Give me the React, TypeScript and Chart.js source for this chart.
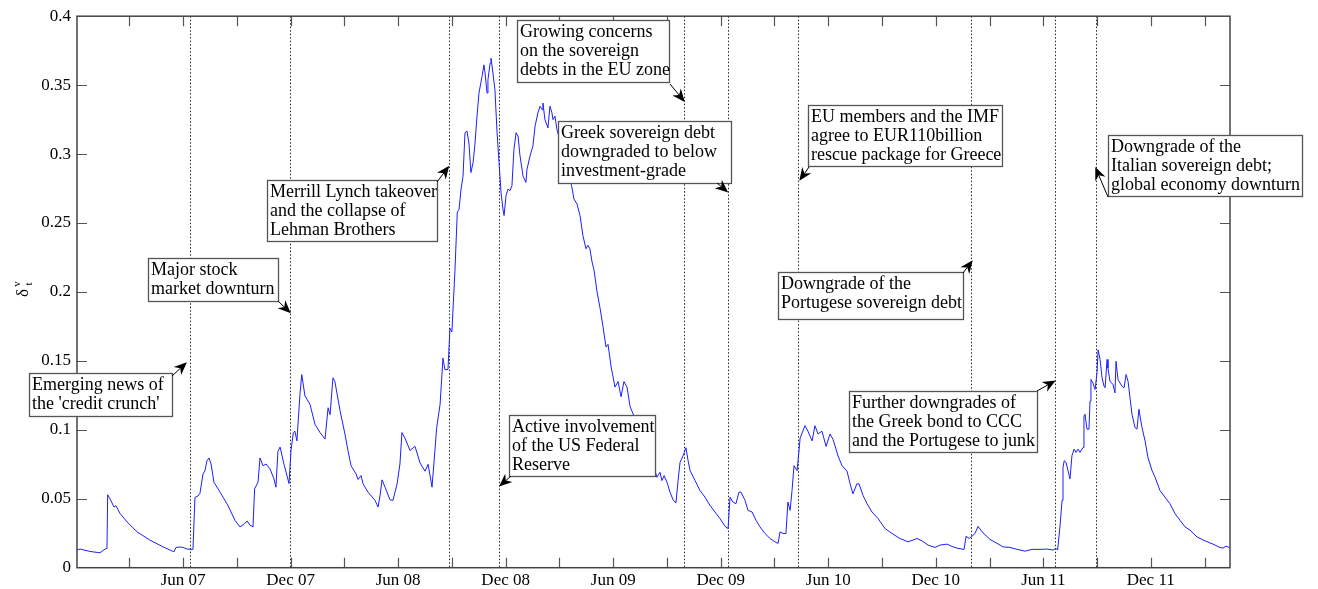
import { useEffect, useRef } from 'react';
import { Chart, registerables } from 'chart.js';
Chart.register(...registerables);

const FONT = "'Liberation Serif', 'Times New Roman', serif";

// x in months since 1 Dec 2006
const months = [
  0.08, 0.25, 0.80, 1.36, 1.64, 1.75, 1.79, 1.92, 2.14, 2.25,
  2.48, 2.87, 3.43, 4.15, 4.88, 5.49, 5.60, 5.83, 5.99, 6.22,
  6.55, 6.66, 6.83, 6.94, 7.11, 7.22, 7.33, 7.44, 7.56, 7.72,
  8.06, 8.50, 8.89, 9.17, 9.40, 9.57, 9.73, 9.90, 9.99, 10.18,
  10.29, 10.46, 10.63, 10.85, 11.07, 11.18, 11.29, 11.41, 11.63, 11.91,
  12.02, 12.15, 12.24, 12.35, 12.52, 12.62, 12.80, 13.08, 13.36, 13.64,
  13.92, 14.09, 14.20, 14.36, 14.47, 14.76, 15.03, 15.20, 15.37, 15.65,
  15.76, 15.93, 16.04, 16.32, 16.71, 16.88, 16.99, 17.10, 17.27, 17.54,
  17.71, 17.94, 18.10, 18.21, 18.38, 18.66, 18.94, 19.22, 19.50, 19.67,
  19.89,
  20.15, 20.34, 20.50, 20.61, 20.78, 20.89, 21.00, 21.17, 21.30, 21.40,
  21.51, 21.62, 21.73, 21.84, 21.95, 22.06, 22.18, 22.29, 22.40, 22.51,
  22.68, 22.79, 22.85, 22.96, 23.01, 23.13, 23.18, 23.29, 23.40, 23.52,
  23.63, 23.74, 23.85, 23.91, 24.02, 24.13, 24.24, 24.35, 24.46, 24.58,
  24.69, 24.80, 24.97, 25.13, 25.19, 25.36, 25.52, 25.64, 25.80, 25.92,
  26.03, 26.08, 26.19, 26.36, 26.47, 26.58, 26.64, 26.75, 26.86, 27.03,
  27.31, 27.48,
  27.68, 27.81, 27.98, 28.15, 28.31, 28.48, 28.59, 28.70, 28.82, 28.93,
  29.10, 29.27, 29.43, 29.60, 29.71, 29.88, 30.10, 30.27, 30.44, 30.60,
  30.77, 30.94, 31.11, 31.50, 31.78, 32.06,
  32.33, 32.44, 32.61, 32.72, 32.84, 33.00, 33.17, 33.34, 33.50, 33.62,
  33.73, 33.90, 34.06, 34.18, 34.29, 34.57, 34.84, 35.12, 35.40, 35.68,
  35.96, 36.24, 36.41, 36.52, 36.68, 36.85, 37.02, 37.13, 37.36, 37.52,
  37.75, 37.97, 38.19, 38.47, 38.75, 39.03, 39.20, 39.31, 39.48, 39.64,
  39.75, 39.87, 39.98, 40.09, 40.26, 40.37, 40.43, 40.70, 40.87, 41.10,
  41.26, 41.43, 41.65, 41.88, 42.10, 42.27, 42.55, 42.77, 43.05, 43.22,
  43.38, 43.60, 43.72, 43.94, 44.17, 44.44, 44.78, 45.17, 45.56, 46.00,
  46.45, 46.73, 46.95, 47.23, 47.57, 47.96, 48.24,
  48.63, 48.96, 49.24, 49.58, 49.69, 49.86, 50.02, 50.19, 50.36, 50.64,
  51.03, 51.59, 51.75, 52.14, 52.53, 52.98, 53.37, 53.82, 54.21, 54.54,
  54.72, 54.80, 54.93, 55.05, 55.10, 55.17, 55.27, 55.38, 55.49, 55.60,
  55.72, 55.83, 55.94, 56.05, 56.22, 56.27, 56.33, 56.44, 56.55, 56.61,
  56.66, 56.77, 56.89, 57.00, 57.06, 57.17, 57.28, 57.39, 57.45, 57.56,
  57.61, 57.72, 57.89, 58.00, 58.06, 58.17, 58.28, 58.39, 58.51, 58.62,
  58.73, 58.84, 58.95, 59.12, 59.23, 59.34, 59.40, 59.51, 59.68, 59.84,
  60.07, 60.24, 60.51, 60.79, 61.07, 61.35, 61.63, 61.91, 62.19, 62.58,
  63.02, 63.47, 63.86, 64.03, 64.20, 64.37,
];

const values = [
  0.0128, 0.0135, 0.0118, 0.0108, 0.0135, 0.014, 0.0529, 0.050, 0.044, 0.045,
  0.0394, 0.0332, 0.026, 0.020, 0.0151, 0.0115, 0.0147, 0.015, 0.0147, 0.0135,
  0.0133, 0.051, 0.052, 0.054, 0.068, 0.0704, 0.0776, 0.0796, 0.0752, 0.062,
  0.0548, 0.0452, 0.0344, 0.0296, 0.0315, 0.0339, 0.0308, 0.0296, 0.0572, 0.062,
  0.0796, 0.074, 0.0752, 0.0716, 0.0644, 0.0584, 0.0843, 0.0875, 0.075, 0.061,
  0.085, 0.098, 0.099, 0.092, 0.1257, 0.140, 0.1245, 0.1185, 0.104, 0.098,
  0.0933, 0.116, 0.111, 0.1377, 0.135, 0.1137, 0.0969, 0.085, 0.074, 0.068,
  0.064, 0.0668, 0.0608, 0.0548, 0.0488, 0.044, 0.0524, 0.0637, 0.0584, 0.0493,
  0.0488, 0.0608, 0.0752, 0.098, 0.094, 0.085, 0.088, 0.076, 0.070, 0.075,
  0.0584,
  0.1016, 0.1185, 0.152, 0.1437, 0.1437, 0.1737, 0.171, 0.2158, 0.2578, 0.260,
  0.2746, 0.284, 0.3155, 0.3167, 0.308, 0.2866, 0.2938, 0.308, 0.3275, 0.3443,
  0.3563, 0.3647, 0.3587, 0.3443, 0.3539, 0.3659, 0.3695, 0.3587, 0.3467, 0.3155,
  0.2938, 0.2722, 0.260, 0.2554, 0.2698, 0.2746, 0.2734, 0.277, 0.3034, 0.3155,
  0.3131, 0.2987, 0.284, 0.2794, 0.289, 0.2987, 0.3059, 0.3203, 0.3299, 0.3347,
  0.3322, 0.337, 0.325, 0.319, 0.3347, 0.33, 0.325, 0.3275, 0.3178, 0.31,
  0.295, 0.285,
  0.277, 0.2674, 0.2638, 0.2554, 0.241, 0.2313, 0.2338, 0.2313, 0.2218, 0.2158,
  0.20, 0.188, 0.175, 0.16, 0.162, 0.146, 0.131, 0.135, 0.124, 0.135,
  0.131, 0.117, 0.1115, 0.100, 0.092, 0.080,
  0.0704, 0.0656, 0.0692, 0.0632, 0.0668, 0.062, 0.0548, 0.0493, 0.0469, 0.0632,
  0.0764, 0.0812, 0.087, 0.0776, 0.0704, 0.0632, 0.056, 0.0512, 0.0452, 0.0404,
  0.0356, 0.030, 0.0284, 0.0512, 0.0476, 0.0464, 0.0548, 0.0548, 0.0488, 0.0416,
  0.0404, 0.0344, 0.0296, 0.0248, 0.0212, 0.0188, 0.0176, 0.026, 0.0248, 0.0248,
  0.0476, 0.0416, 0.056, 0.074, 0.0704, 0.0848, 0.094, 0.103, 0.099, 0.092,
  0.103, 0.097, 0.099, 0.088, 0.097, 0.093, 0.081, 0.074, 0.070, 0.0608,
  0.0536, 0.0608, 0.0608, 0.0524, 0.0464, 0.0404, 0.0356, 0.0284, 0.0248, 0.0212,
  0.0188, 0.020, 0.0212, 0.0195, 0.0164, 0.0147, 0.0164,
  0.0171, 0.0151, 0.014, 0.0133, 0.0228, 0.0212, 0.0228, 0.0248, 0.030, 0.0252,
  0.0205, 0.0164, 0.0151, 0.0147, 0.0133, 0.012, 0.0133, 0.0133, 0.0135, 0.0128,
  0.014, 0.0128, 0.0296, 0.0488, 0.0728, 0.0776, 0.0764, 0.0704, 0.0644, 0.0812,
  0.086, 0.0836, 0.086, 0.0836, 0.0872, 0.110, 0.1113, 0.1005, 0.1005, 0.1209,
  0.1365, 0.134, 0.1293, 0.1413, 0.158, 0.151, 0.1377, 0.1317, 0.1305, 0.151,
  0.1449, 0.1353, 0.1329, 0.1268, 0.1497, 0.1365, 0.134, 0.1317, 0.1305, 0.1401,
  0.1353, 0.1232, 0.1113, 0.1016, 0.1005, 0.1149, 0.110, 0.1016, 0.092, 0.080,
  0.0704, 0.0656, 0.056, 0.0512, 0.0464, 0.0392, 0.0344, 0.0296, 0.0272, 0.0223,
  0.0195, 0.0171, 0.0147, 0.0142, 0.0156, 0.0147,
];

const xLabelMonths = [6, 12, 18, 24, 30, 36, 42, 48, 54, 60];
const xLabels = ['Jun 07', 'Dec 07', 'Jun 08', 'Dec 08', 'Jun 09', 'Dec 09', 'Jun 10', 'Dec 10', 'Jun 11', 'Dec 11'];

const eventMonths = [6.38, 11.98, 20.85, 23.63, 33.97, 36.39, 40.33, 49.98, 54.67, 56.93];
const eventTexts = [
  ['Emerging news of', "the 'credit crunch'"],
  ['Major stock', 'market downturn'],
  ['Merrill Lynch takeover', 'and the collapse of', 'Lehman Brothers'],
  ['Active involvement', 'of the US Federal', 'Reserve'],
  ['Growing concerns', 'on the sovereign', 'debts in the EU zone'],
  ['Greek sovereign debt', 'downgraded to below', 'investment-grade'],
  ['EU members and the IMF', 'agree to EUR110billion', 'rescue package for Greece'],
  ['Downgrade of the', 'Portugese sovereign debt'],
  ['Further downgrades of', 'the Greek bond to CCC', 'and the Portugese to junk'],
  ['Downgrade of the', 'Italian sovereign debt;', 'global economy downturn'],
];
const arrowTipValues = [0.149, 0.1845, 0.2915, 0.0589, 0.3378, 0.2722, 0.2806, 0.223, 0.1358, 0.2906];

// annotation layout in pixels: box [left, top, right, bottom], arrow tail, tip x offset from event line
const boxLayout = [
  { box: [29, 373, 172, 416], tail: [172, 376], dx: -3 },
  { box: [148, 258, 278, 301], tail: [278, 301], dx: 0.5 },
  { box: [267, 180, 437, 241], tail: [437, 182], dx: 0 },
  { box: [509, 415, 655, 476], tail: [511, 476], dx: 0 },
  { box: [517, 20, 669, 82], tail: [670, 84], dx: 0.5 },
  { box: [558, 121, 731, 183], tail: [717, 183], dx: 0.5 },
  { box: [808, 105, 1002, 166], tail: [809, 167], dx: 1 },
  { box: [778, 272, 963, 319], tail: [963, 273], dx: 1.5 },
  { box: [849, 391, 1037, 452], tail: [1037, 391], dx: 0.4 },
  { box: [1108, 135, 1302, 196], tail: [1108, 197], dx: -0.5 },
];

function drawArrow(ctx: CanvasRenderingContext2D, x0: number, y0: number, x1: number, y1: number) {
  const ang = Math.atan2(y1 - y0, x1 - x0);
  const len = 13, half = 5.5, notch = 9;
  const c = Math.cos(ang), s = Math.sin(ang);
  ctx.save();
  ctx.strokeStyle = '#000';
  ctx.fillStyle = '#000';
  ctx.lineWidth = 1;
  ctx.beginPath();
  ctx.moveTo(x0, y0);
  ctx.lineTo(x1 - c * notch, y1 - s * notch);
  ctx.stroke();
  ctx.beginPath();
  ctx.moveTo(x1, y1);
  ctx.lineTo(x1 - c * len - s * half, y1 - s * len + c * half);
  ctx.lineTo(x1 - c * notch, y1 - s * notch);
  ctx.lineTo(x1 - c * len + s * half, y1 - s * len - c * half);
  ctx.closePath();
  ctx.fill();
  ctx.restore();
}

const overlay = {
  id: 'overlay',
  beforeDatasetsDraw(chart: any) {
    const { ctx, chartArea, scales } = chart;
    const x = scales.x;
    ctx.save();
    ctx.strokeStyle = '#222';
    ctx.lineWidth = 1;
    ctx.setLineDash([1.5, 2]);
    eventMonths.forEach((m) => {
      const px = Math.round(x.getPixelForValue(m)) + 0.5;
      ctx.beginPath();
      ctx.moveTo(px, chartArea.top);
      ctx.lineTo(px, chartArea.bottom);
      ctx.stroke();
    });
    ctx.restore();
  },
  afterDraw(chart: any) {
    const { ctx, chartArea, scales } = chart;
    const x = scales.x, y = scales.y;
    const { left, right, top, bottom } = chartArea;
    ctx.save();
    // ticks
    ctx.strokeStyle = '#555';
    ctx.lineWidth = 1.2;
    x.ticks.forEach((t: any) => {
      const px = Math.round(x.getPixelForValue(t.value)) + 0.5;
      ctx.beginPath();
      ctx.moveTo(px, bottom); ctx.lineTo(px, bottom - 10);
      ctx.moveTo(px, top); ctx.lineTo(px, top + 10);
      ctx.stroke();
    });
    y.ticks.forEach((t: any) => {
      if (t.value <= 0 || t.value >= 0.4) return;
      const py = Math.round(y.getPixelForValue(t.value)) + 0.5;
      ctx.beginPath();
      ctx.moveTo(left, py); ctx.lineTo(left + 10, py);
      ctx.moveTo(right, py); ctx.lineTo(right - 10, py);
      ctx.stroke();
    });
    // frame
    ctx.strokeStyle = '#444';
    ctx.lineWidth = 1.5;
    ctx.strokeRect(left, top, right - left, bottom - top);

    // y axis label
    ctx.save();
    ctx.translate(24, 293);
    ctx.rotate(-Math.PI / 2);
    ctx.fillStyle = '#000';
    ctx.textAlign = 'center';
    ctx.textBaseline = 'middle';
    ctx.font = `17px ${FONT}`;
    ctx.fillText('\u03b4', 0, 0);
    ctx.font = `11px ${FONT}`;
    ctx.fillText('t', 9, 5);
    ctx.fillText('v', 9, -7);
    ctx.restore();

    // annotation boxes and arrows
    boxLayout.forEach((b, i) => {
      const [l, tp, r, bt] = b.box;
      ctx.fillStyle = '#fff';
      ctx.fillRect(l, tp, r - l, bt - tp);
      ctx.strokeStyle = '#555';
      ctx.lineWidth = 1.3;
      ctx.strokeRect(l + 0.5, tp + 0.5, r - l, bt - tp);
      ctx.fillStyle = '#000';
      ctx.font = `18px ${FONT}`;
      ctx.textAlign = 'left';
      ctx.textBaseline = 'alphabetic';
      eventTexts[i].forEach((line, k) => {
        ctx.fillText(line, l + 3, tp + 17 + k * 19);
      });
      const tipX = x.getPixelForValue(eventMonths[i]) + b.dx;
      const tipY = y.getPixelForValue(arrowTipValues[i]);
      drawArrow(ctx, b.tail[0], b.tail[1], tipX, tipY);
    });
    ctx.restore();
  },
};

export default function App() {
  const ref = useRef<HTMLCanvasElement>(null);
  useEffect(() => {
    if (!ref.current) return;
    const chart = new Chart(ref.current, {
      type: 'line',
      data: {
        datasets: [
          {
            data: months.map((m, i) => ({ x: m, y: values[i] })),
            borderColor: 'rgb(30,30,255)',
            borderWidth: 1,
            pointRadius: 0,
            tension: 0,
            fill: false,
          },
        ],
      },
      options: {
        animation: false,
        responsive: false,
        devicePixelRatio: 1,
        layout: { padding: { left: 0, top: 12.7, right: 88, bottom: 0 } },
        plugins: { legend: { display: false }, tooltip: { enabled: false } },
        scales: {
          x: {
            type: 'linear',
            min: 0.078,
            max: 64.42,
            grid: { display: false, drawTicks: false },
            border: { display: false },
            afterFit: (s: any) => { s.height = 21.3; },
            ticks: {
              stepSize: 3,
              includeBounds: false,
              autoSkip: false,
              maxRotation: 0,
              padding: 3,
              color: '#000',
              font: { family: FONT, size: 17 },
              callback: (v: any) => {
                const idx = xLabelMonths.indexOf(Math.round(Number(v)));
                return idx >= 0 && Math.abs(Number(v) - xLabelMonths[idx]) < 1e-6 ? xLabels[idx] : '';
              },
            },
          },
          y: {
            min: 0,
            max: 0.4,
            grid: { display: false, drawTicks: false },
            border: { display: false },
            afterFit: (s: any) => { s.width = 77; },
            ticks: {
              stepSize: 0.05,
              padding: 6,
              color: '#000',
              font: { family: FONT, size: 17 },
              callback: (v: any) => String(Number(Number(v).toFixed(2))),
            },
          },
        },
      },
      plugins: [overlay],
    });
    return () => chart.destroy();
  }, []);
  return (
    <div style={{ position: 'fixed', left: 0, top: 0, width: 1318, height: 589, background: '#fff' }}>
      <canvas ref={ref} width={1318} height={589} style={{ display: 'block' }} />
    </div>
  );
}
